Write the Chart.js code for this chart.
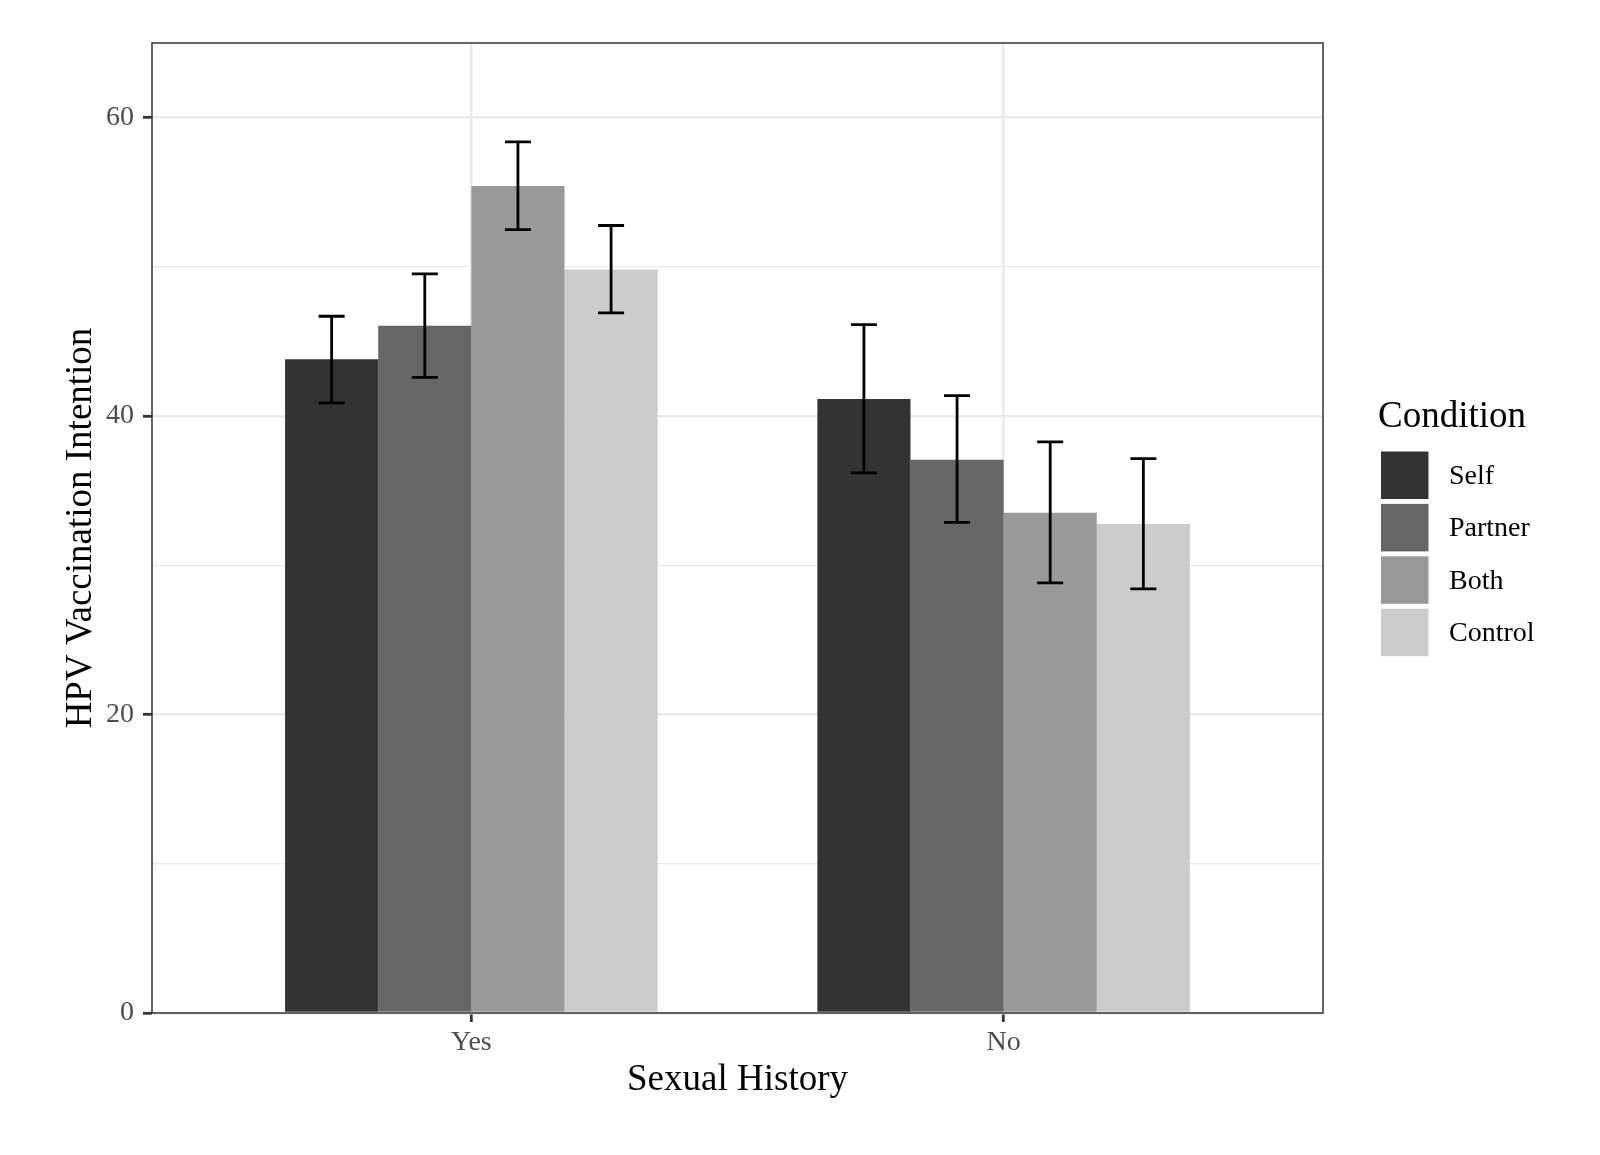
<!DOCTYPE html>
<html>
<head>
<meta charset="utf-8">
<script src="https://cdn.jsdelivr.net/npm/chart.js@4.4.1/dist/chart.umd.min.js"></script>
<style>
    html, body { margin: 0; padding: 0; background: #ffffff; }
    #wrap { width: 1600px; height: 1155px; }
</style>
</head>
<body>
<div id="wrap"><canvas id="chart" width="1600" height="1155"></canvas></div>
<script>
// Sexual history groups on the x axis
const categories = ['Yes', 'No'];
const conditions = ['Self', 'Partner', 'Both', 'Control'];
const fills = ['#333333', '#666666', '#999999', '#cccccc'];

// mean intention, one value per group [Yes, No]
const selfMeans = [43.8, 41.15];
const partnerMeans = [46.05, 37.08];
const bothMeans = [55.42, 33.52];
const controlMeans = [49.83, 32.76];

// error bar ends
const selfLow = [40.88, 36.19];
const selfHigh = [46.69, 46.13];
const partnerLow = [42.6, 32.88];
const partnerHigh = [49.53, 41.37];
const bothLow = [52.5, 28.82];
const bothHigh = [58.38, 38.27];
const controlLow = [46.92, 28.42];
const controlHigh = [52.77, 37.15];

const yTicks = [0, 10, 20, 30, 40, 50, 60];
const yLabelled = [0, 20, 40, 60];

const allMeans = [selfMeans, partnerMeans, bothMeans, controlMeans];
const allLow = [selfLow, partnerLow, bothLow, controlLow];
const allHigh = [selfHigh, partnerHigh, bothHigh, controlHigh];

const serif = '"Liberation Serif", "DejaVu Serif", serif';

const datasets = conditions.map((name, i) => ({
    label: name,
    data: allMeans[i].map((v, j) => ({ x: j + 1, y: v })),
    low: allLow[i],
    high: allHigh[i],
    backgroundColor: fills[i],
    borderWidth: 0,
    categoryPercentage: 0.7,
    barPercentage: 1.0
}));

// error bars drawn on top of the bars
const errorBars = {
    id: 'errorBars',
    afterDatasetsDraw(chart) {
        const ctx = chart.ctx;
        const y = chart.scales.y;
        ctx.save();
        ctx.strokeStyle = '#000000';
        ctx.lineWidth = 2.8;
        chart.data.datasets.forEach((ds, i) => {
            const meta = chart.getDatasetMeta(i);
            meta.data.forEach((bar, j) => {
                const top = y.getPixelForValue(ds.high[j]);
                const bot = y.getPixelForValue(ds.low[j]);
                const half = 13;
                ctx.beginPath();
                ctx.moveTo(bar.x, top);
                ctx.lineTo(bar.x, bot);
                ctx.moveTo(bar.x - half, top);
                ctx.lineTo(bar.x + half, top);
                ctx.moveTo(bar.x - half, bot);
                ctx.lineTo(bar.x + half, bot);
                ctx.stroke();
            });
        });
        ctx.restore();
    }
};

// panel border + legend like ggplot
const panelAndLegend = {
    id: 'panelAndLegend',
    afterDraw(chart) {
        const ctx = chart.ctx;
        const a = chart.chartArea;
        ctx.save();
        ctx.strokeStyle = '#333333';
        ctx.lineWidth = 1.5;
        ctx.strokeRect(a.left, a.top, a.right - a.left, a.bottom - a.top);

        ctx.fillStyle = '#000000';
        ctx.font = '37px ' + serif;
        ctx.textAlign = 'left';
        ctx.textBaseline = 'middle';
        ctx.fillText('Condition', 1378, 417);

        ctx.font = '28px ' + serif;
        chart.data.datasets.forEach((ds, i) => {
            const top = 451.5 + i * 52.4;
            ctx.fillStyle = ds.backgroundColor;
            ctx.fillRect(1381, top, 47.5, 47.5);
            ctx.fillStyle = '#000000';
            ctx.fillText(ds.label, 1449, top + 25);
        });
        ctx.restore();
    }
};

new Chart(document.getElementById('chart'), {
    type: 'bar',
    data: { datasets: datasets },
    plugins: [errorBars, panelAndLegend],
    options: {
        responsive: false,
        devicePixelRatio: 1,
        animation: false,
        layout: { padding: { top: 43, right: 277, left: 0, bottom: 0 } },
        plugins: {
            legend: { display: false },
            tooltip: { enabled: false }
        },
        scales: {
            x: {
                type: 'linear',
                min: 0.4,
                max: 2.6,
                offset: false,
                afterBuildTicks: s => { s.ticks = categories.map((c, i) => ({ value: i + 1 })); },
                afterFit: s => { s.height = 142; },
                border: { display: false },
                grid: {
                    offset: false,
                    color: '#ebebeb',
                    lineWidth: 2.6,
                    tickColor: '#333333',
                    tickWidth: 2.8,
                    tickLength: 9
                },
                ticks: {
                    callback: v => categories[v - 1],
                    color: '#4d4d4d',
                    font: { family: serif, size: 28 },
                    padding: 4,
                    maxRotation: 0
                },
                title: {
                    display: true,
                    text: 'Sexual History',
                    color: '#000000',
                    font: { family: serif, size: 37 },
                    padding: { top: 0, bottom: 53 }
                }
            },
            y: {
                min: 0,
                max: 65,
                afterBuildTicks: s => { s.ticks = yTicks.map(v => ({ value: v })); },
                afterFit: s => { s.width = 152; },
                border: { display: false },
                grid: {
                    color: '#ebebeb',
                    lineWidth: c => yLabelled.includes(c.tick.value) ? 2.6 : 1.3,
                    tickColor: c => yLabelled.includes(c.tick.value) ? '#333333' : 'rgba(0,0,0,0)',
                    tickWidth: 2.8,
                    tickLength: 9
                },
                ticks: {
                    callback: v => yLabelled.includes(v) ? String(v) : '',
                    color: '#4d4d4d',
                    font: { family: serif, size: 28 },
                    padding: 9
                },
                title: {
                    display: true,
                    text: 'HPV Vaccination Intention',
                    color: '#000000',
                    font: { family: serif, size: 37 },
                    padding: { top: 59, bottom: 0 }
                }
            }
        }
    }
});
</script>
</body>
</html>
